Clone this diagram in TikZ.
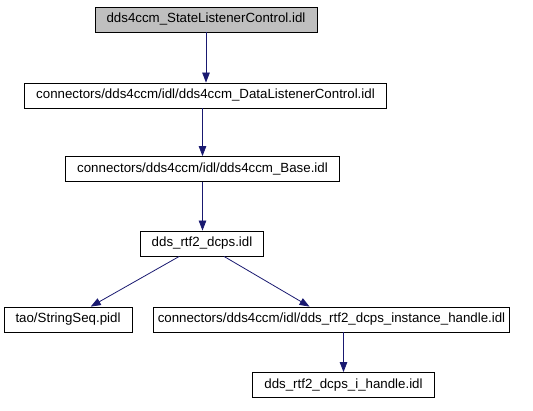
\documentclass[tikz,border=0pt]{standalone}
\usepackage{fontspec}
\setmainfont{Liberation Sans}
\usetikzlibrary{arrows.meta}
\definecolor{edgeblue}{HTML}{191970}
\definecolor{boxgrey}{HTML}{BFBFBF}
\tikzset{
  % one box per file, the file the graph is about is greyed
  file/.style     = {draw=black, fill=white, line width=0.8pt,
                     font=\fontsize{13.3}{15}\selectfont,
                     inner xsep=11.5pt, inner ysep=0pt, minimum height=25pt},
  thisfile/.style = {file, fill=boxgrey},
  dep/.style      = {draw=edgeblue, line width=0.8pt,
                     -{Triangle[length=10pt,width=7.5pt]}},
}

\begin{document}
\begin{tikzpicture}[x=1pt, y=-1pt]
    \useasboundingbox (0,0) rectangle (533,411);

    \node[thisfile] (state)  at (206,19.5)  {dds4ccm\_StateListenerControl.idl};
    \node[file]     (data)   at (205.5,95.5) {connectors/dds4ccm/idl/dds4ccm\_DataListenerControl.idl};
    \node[file]     (base)   at (202.5,169) {connectors/dds4ccm/idl/dds4ccm\_Base.idl};
    \node[file]     (dcps)   at (202,243.5) {dds\_rtf2\_dcps.idl};
    \node[file]     (strseq) at (68,319.5)  {tao/StringSeq.pidl};
    % long name: graphviz left it only a little room
    \node[file, inner xsep=4pt] (inst) at (331.5,319.5) {connectors/dds4ccm/idl/dds\_rtf2\_dcps\_instance\_handle.idl};
    \node[file]     (ihdl)   at (343.5,385) {dds\_rtf2\_dcps\_i\_handle.idl};

    \draw[dep] (state) -- (data.north -| state);
    \draw[dep] (data.south -| base) -- (base);
    \draw[dep] (base) -- (dcps.north -| base);
    \draw[dep] (dcps) -- (strseq);
    \draw[dep] (dcps) -- (inst);
    \draw[dep] (inst.south -| ihdl) -- (ihdl);
\end{tikzpicture}
\end{document}
